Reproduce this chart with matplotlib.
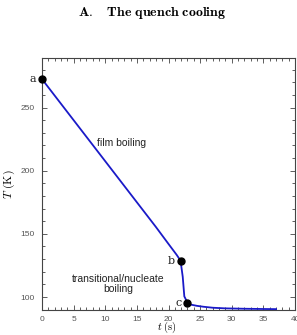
import numpy as np
import matplotlib.pyplot as plt
from matplotlib.ticker import MultipleLocator

plt.rcParams['mathtext.fontset'] = 'cm'

# Curva de enfriamiento
t_s = [0, 2, 4, 6, 8, 10, 12, 14, 16, 18, 20, 21.3, 21.9, 22.25, 22.5,
       23.0, 23.5, 24.5, 25.5, 27, 29, 32, 35, 37]
T_K = [272.5, 259.5, 246.5, 233.5, 220.5, 207.5, 194.5, 181.5, 168.5, 155.5,
       142.0, 133.3, 128.8, 116.0, 100.5, 95.5, 94.0, 93.0, 92.3, 91.5,
       91.0, 90.7, 90.5, 90.4]

# Puntos marcados
pt_names = ['a', 'b', 'c']
pt_t = [0.0, 21.9, 23.0]
pt_T = [272.5, 128.8, 95.5]

fig = plt.figure(figsize=(2.97, 3.35), dpi=100)
ax = fig.add_axes([0.1414, 0.0761, 0.8519, 0.7499])

ax.plot(t_s, T_K, color='#1a1ac8', lw=1.3, zorder=3)
ax.plot(pt_t, pt_T, 'o', color='black', ms=5, zorder=4, clip_on=False)
for name, x, y in zip(pt_names, pt_t, pt_T):
    ax.annotate(name, (x, y), xytext=(-9, 0), textcoords='offset pixels',
                ha='center', va='center', fontsize=8, family='DejaVu Serif',
                color='#222222')

ax.text(12.6, 221.8, 'film boiling', ha='center', va='center',
        fontsize=7.5, family='Liberation Sans', color='#222222')
ax.text(12.1, 110.3, 'transitional/nucleate\nboiling', ha='center', va='center',
        fontsize=7.5, family='Liberation Sans', color='#222222', linespacing=1.05)

ax.set_xlim(0, 40)
ax.set_ylim(90.1, 289)
ax.xaxis.set_major_locator(MultipleLocator(5))
ax.xaxis.set_minor_locator(MultipleLocator(1))
ax.yaxis.set_major_locator(MultipleLocator(50))
ax.yaxis.set_minor_locator(MultipleLocator(10))
ax.tick_params(which='both', direction='in', top=True, right=True,
               colors='#444444', labelcolor='#555555', labelsize=6, width=0.6)
ax.tick_params(which='major', length=3.5)
ax.tick_params(which='minor', length=2)
ax.tick_params(axis='x', which='major', pad=4.5)
ax.tick_params(axis='y', which='major', pad=5)
for lab in ax.get_xticklabels() + ax.get_yticklabels():
    lab.set_family('Liberation Sans')
for sp in ax.spines.values():
    sp.set_color('#444444')
    sp.set_linewidth(0.8)

# etiqueta x pegada al borde inferior, como en el original
fig.text(0.563, 0.001, r'$t\ (\mathrm{s})$', ha='center', va='bottom', fontsize=7.5)
ax.set_ylabel(r'$T\ (\mathrm{K})$', fontsize=8.5, labelpad=3)

fig.text(0.512, 0.962, r'$\mathbf{A.\quad The\ quench\ cooling}$',
         ha='center', va='center', fontsize=10)

fig.savefig('out.png', dpi=100)
